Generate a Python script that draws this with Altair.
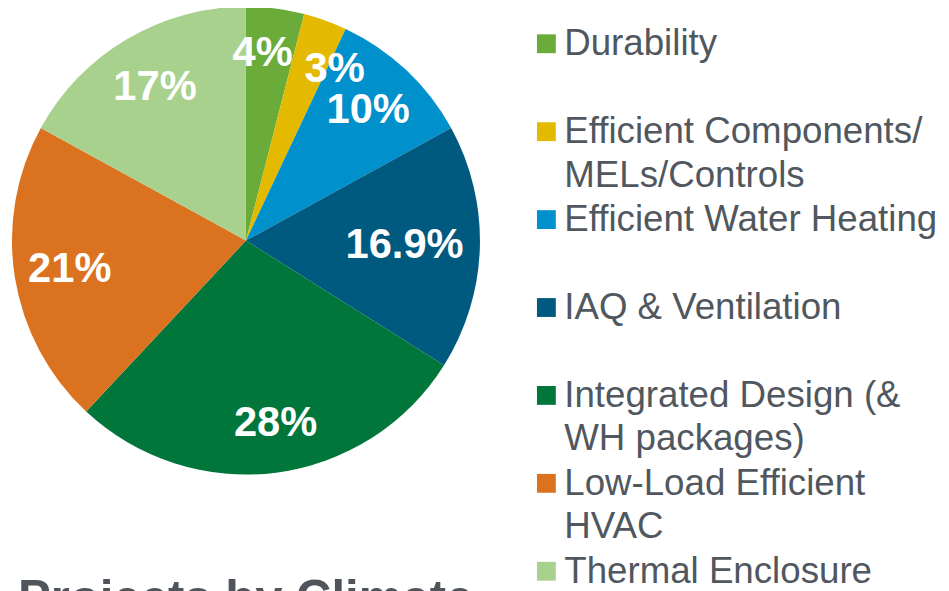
import altair as alt
import pandas as pd

categories = [
    "Durability",
    "Efficient Components/ MELs/Controls",
    "Efficient Water Heating",
    "IAQ & Ventilation",
    "Integrated Design (& WH packages)",
    "Low-Load Efficient HVAC",
    "Thermal Enclosure",
]
legend_labels = [
    "Durability",
    "Efficient Components/\nMELs/Controls",
    "Efficient Water Heating",
    "IAQ & Ventilation",
    "Integrated Design (&\nWH packages)",
    "Low-Load Efficient\nHVAC",
    "Thermal Enclosure",
]
values = [4, 3, 10, 16.9, 28, 21, 17]
pct_labels = ["4%", "3%", "10%", "16.9%", "28%", "21%", "17%"]
colors = ["#6AAB3A", "#E3BA00", "#0090CB", "#00597F", "#00763A", "#DB7220", "#A9D18E"]
bottom_title = ["Projects by Climate"]

df = pd.DataFrame({
    "category": categories,
    "legend": legend_labels,
    "value": values,
    "label": pct_labels,
    "order": list(range(len(categories))),
})
total = float(sum(values))

W, H = 941, 600
CX, CY, R = 240, 232, 236

theta_scale = alt.Scale(domain=[0, total], range=[0, 6.283185307179586], nice=False, zero=True)
color_scale = alt.Scale(domain=categories, range=colors)

base = alt.Chart(df).transform_stack(
    stack="value", groupby=[], as_=["v0", "v1"], sort=[alt.SortField("order", order="ascending")]
).transform_calculate(mid="(datum.v0 + datum.v1) / 2")

pie = base.mark_arc(outerRadius=R, stroke=None).encode(
    theta=alt.Theta("v0:Q", scale=theta_scale),
    theta2="v1:Q",
    color=alt.Color("category:N", scale=color_scale, legend=None),
    x=alt.value(CX),
    y=alt.value(CY),
)

lab_font = dict(font="Liberation Sans", fontSize=42, fontWeight="bold", color="white",
                align="center", baseline="middle")


def pct_layer(test, radius, dx=0, dy=0):
    return base.transform_filter(test).mark_text(radius=radius, dx=dx, dy=dy, **lab_font).encode(
        theta=alt.Theta("mid:Q", scale=theta_scale),
        text="label:N",
        x=alt.value(CX),
        y=alt.value(CY),
    )


labels_main = pct_layer("indexof(['10%', '21%', '17%'], datum.label) >= 0", 180)
labels_iaq = pct_layer("datum.label == '16.9%'", 160)
labels_big = pct_layer("datum.label == '28%'", 186, dx=6)
labels_4 = pct_layer("datum.label == '4%'", 190, dx=-7, dy=-1)
labels_3 = pct_layer("datum.label == '3%'", 190, dx=25, dy=6)

n = len(categories)
swatches = alt.Chart(df).mark_square(size=361, opacity=1).encode(
    y=alt.Y("order:Q", scale=alt.Scale(domain=[0, n - 1], range=[33.5, 565.5]), axis=None),
    x=alt.value(543),
    color=alt.Color("category:N", scale=color_scale, legend=None),
)

legend_text = alt.Chart(df).mark_text(
    font="Liberation Sans", fontSize=37, color="#50575E", align="left", baseline="alphabetic",
    lineBreak="\n", lineHeight=44,
).encode(
    y=alt.Y("order:Q", scale=alt.Scale(domain=[0, n - 1], range=[45, 577]), axis=None),
    x=alt.value(561),
    text="legend:N",
)

title_df = pd.DataFrame({"t": bottom_title})
bottom = alt.Chart(title_df).mark_text(
    font="Liberation Sans", fontSize=49.5, fontWeight="bold", color="#4F555B",
    align="left", baseline="alphabetic",
).encode(text="t:N", x=alt.value(10), y=alt.value(610))

chart = alt.layer(
    pie, labels_main, labels_iaq, labels_big, labels_4, labels_3, swatches, legend_text, bottom
).resolve_scale(
    y="independent"
).properties(
    width=W, height=H, autosize=alt.AutoSizeParams(type="none"), padding=0
).configure_view(stroke=None)

chart.save("out.html", embed_options={"renderer": "svg", "actions": False})
